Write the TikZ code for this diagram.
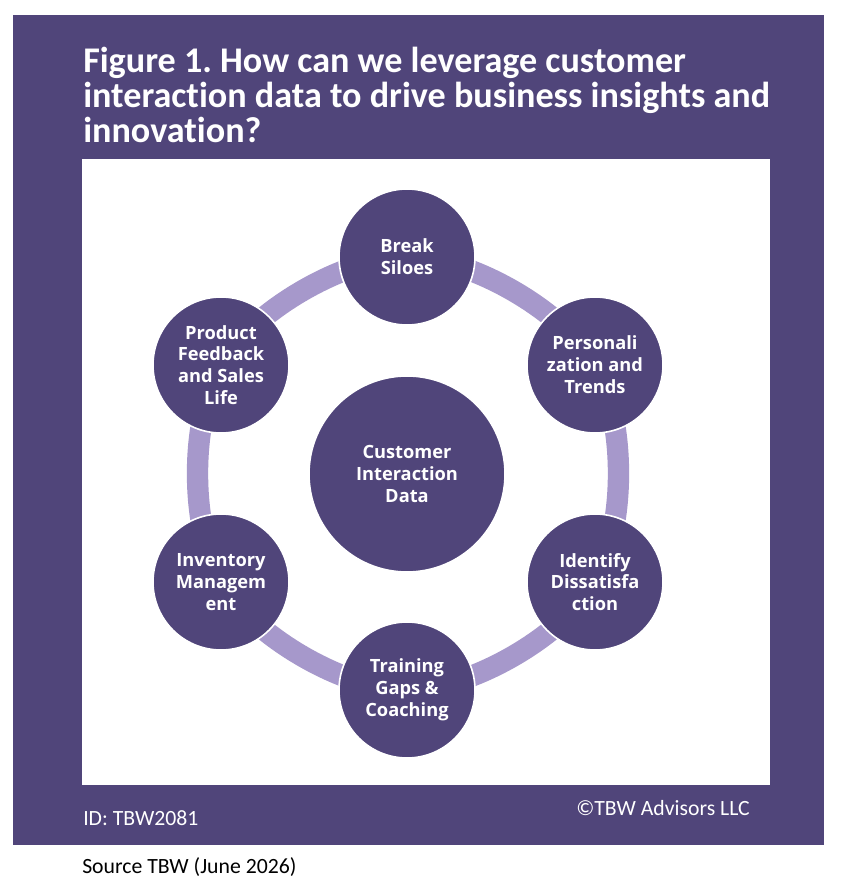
\documentclass[tikz,border=0pt]{standalone}
\usepackage{fontspec}
\setmainfont[Ligatures=NoCommon]{Carlito}
\newfontfamily\hubfont{Open Sans}
\usetikzlibrary{backgrounds}
\definecolor{panelpurple}{HTML}{50457A}
\definecolor{ringpurple}{HTML}{A698CB}
\tikzset{hub/.style={circle, fill=panelpurple, draw=white, line width=1.2pt, inner sep=0pt,
         align=center, text=white, font=\hubfont\bfseries\fontsize{13.7}{16.4}\selectfont,
         minimum size=#1*1.5pt},
         hub/.default={68},
         ring/.style={ringpurple, line width=16pt},
         plain/.style={inner sep=0pt, anchor=base west}}

\begin{document}
\frenchspacing
\begin{tikzpicture}[x=0.75pt,y=0.75pt]
        \useasboundingbox (0,0) rectangle (841,894);

        % Spokes of the wheel
        \node[hub] (breaksiloes) at (407,637) {Break\\Siloes};
        \node[hub] (personal) at (595,529) {Personali\\zation and\\Trends};
        \node[hub] (identify) at (595,312) {Identify\\Dissatisfa\\ction};
        \node[hub] (training) at (407,204) {Training\\Gaps \&\\Coaching};
        \node[hub] (inventory) at (221,312) {Inventory\\Managem\\ent};
        \node[hub] (product) at (221,529) {Product\\Feedback\\and Sales\\Life};

        % Center
        \node[hub=98] (customer) at (407,420) {Customer\\Interaction\\Data};

        % Heading and footers
        \node[plain, align=left, text=white, font=\bfseries\fontsize{27.1}{26.1}\selectfont, anchor=north west]
            (heading) at (83,847) {Figure 1. How can we leverage customer\\interaction data to drive business insights and\\innovation?};
        \node[plain, text=white, font=\fontsize{16.3}{18}\selectfont] (idlabel) at (83,69) {ID: TBW2081};
        \node[plain, text=white, font=\fontsize{16.3}{18}\selectfont] (rights) at (576,79) {©TBW Advisors LLC};
        \node[plain, text=black, font=\fontsize{16.3}{18}\selectfont] (source) at (82,21) {Source TBW (June 2026)};

        \begin{scope}[on background layer]
            \fill[panelpurple] (13,49) rectangle (824,879);
            \fill[white] (82,109) rectangle (770,735);
            \foreach \a/\b in {breaksiloes/personal, personal/identify, identify/training,
                               training/inventory, inventory/product, product/breaksiloes} {
                \draw[ring] (\a.center) to[bend left=30, looseness=0.74] (\b.center);
            }
        \end{scope}

    \end{tikzpicture}
\end{document}
